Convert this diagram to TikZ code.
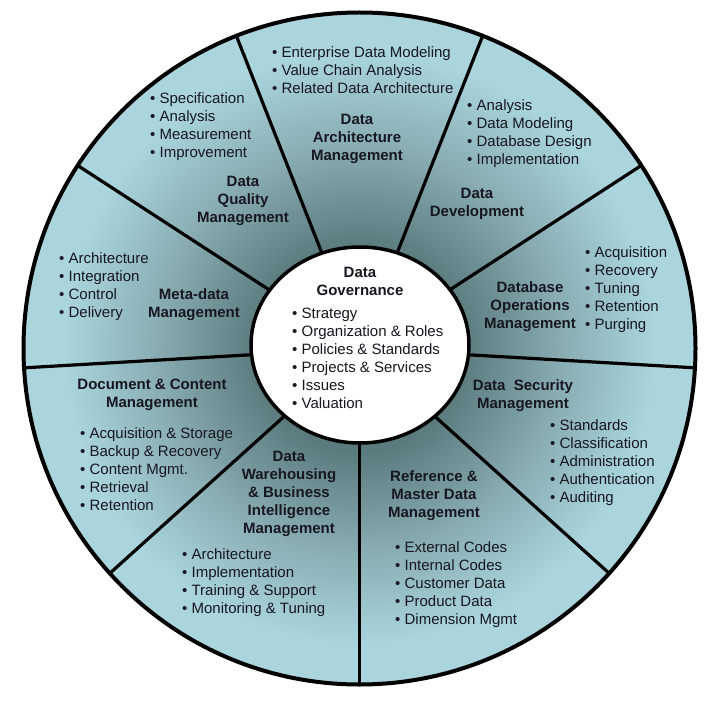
\documentclass[tikz,border=0pt]{standalone}
\usepackage{fontspec}
\setmainfont{Liberation Sans}
\usetikzlibrary{calc}
\definecolor{dkc}{HTML}{5A7A7D}
\definecolor{mdc}{HTML}{88ACB2}
\definecolor{ltc}{HTML}{AAD5DD}
\definecolor{txt}{HTML}{17171F}
\pgfdeclareradialshading{wheelshade}{\pgfpoint{0bp}{0bp}}{color(0bp)=(dkc); color(7.5bp)=(dkc); color(15bp)=(mdc); color(22bp)=(ltc); color(50bp)=(ltc)}
\tikzset{
  ttl/.style={font=\fontsize{15}{18}\selectfont\bfseries, align=center, inner sep=0pt, anchor=north, text=txt},
  lst/.style={font=\fontsize{15}{18}\selectfont, align=left, inner sep=0pt, anchor=north west, text=txt},
  spoke/.style={line width=3.2pt, black},
  rim/.style={line width=4pt, black},
  hub/.style={line width=3.5pt, black, fill=white}
}
\begin{document}
\begin{tikzpicture}[x=1pt,y=-1pt]
\useasboundingbox (0,0) rectangle (712,703);
\coordinate (ctr) at (359.5,348.5);
\shade[shading=wheelshade] (ctr) circle (336);
\foreach \a in {111.5,68.5,33,-3.3,-42,-90,-138,183.3,147}{
  \draw[spoke] (ctr) -- ($(ctr)+(-\a:336)$);
}
\draw[rim] (ctr) circle (336);
\filldraw[hub] (360,345) ellipse [x radius=109, y radius=98];

\node[ttl] (damT) at (357,113.5) {Data\\Architecture\\Management};
\node[lst] (damL) at (272,46.5) {• Enterprise Data Modeling\\• Value Chain Analysis\\• Related Data Architecture};
\node[lst] (ddL) at (467,99.5) {• Analysis\\• Data Modeling\\• Database Design\\• Implementation};
\node[ttl] (ddT) at (477,187.5) {Data\\Development};
\node[ttl] (dboT) at (530,281.5) {Database\\Operations\\Management};
\node[lst] (dboL) at (585,246.5) {• Acquisition\\• Recovery\\• Tuning\\• Retention\\• Purging};
\node[ttl] (dsmT) at (523,379.5) {Data\ \ Security\\Management};
\node[lst] (dsmL) at (550,419.5) {• Standards\\• Classification\\• Administration\\• Authentication\\• Auditing};
\node[ttl] (rmdT) at (434,470.5) {Reference \&\\Master Data\\Management};
\node[lst] (rmdL) at (395,541.5) {• External Codes\\• Internal Codes\\• Customer Data\\• Product Data\\• Dimension Mgmt};
\node[ttl] (dwT) at (289,450.5) {Data\\Warehousing\\\& Business\\Intelligence\\Management};
\node[lst] (dwL) at (182,548.5) {• Architecture\\• Implementation\\• Training \& Support\\• Monitoring \& Tuning};
\node[ttl] (dcT) at (152,378.5) {Document \& Content\\Management};
\node[lst] (dcL) at (80,427.5) {• Acquisition \& Storage\\• Backup \& Recovery\\• Content Mgmt.\\• Retrieval\\• Retention};
\node[lst] (mdL) at (59,252.5) {• Architecture\\• Integration\\• Control\\• Delivery};
\node[ttl] (mdT) at (194,288.5) {Meta-data\\Management};
\node[lst] (dqL) at (150,92.5) {• Specification\\• Analysis\\• Measurement\\• Improvement};
\node[ttl] (dqT) at (243,175.5) {Data\\Quality\\Management};
\node[ttl] (dgT) at (360,266.5) {Data\\Governance};
\node[lst] (dgL) at (292,307.5) {• Strategy\\• Organization \& Roles\\• Policies \& Standards\\• Projects \& Services\\• Issues\\• Valuation};
\end{tikzpicture}
\end{document}
